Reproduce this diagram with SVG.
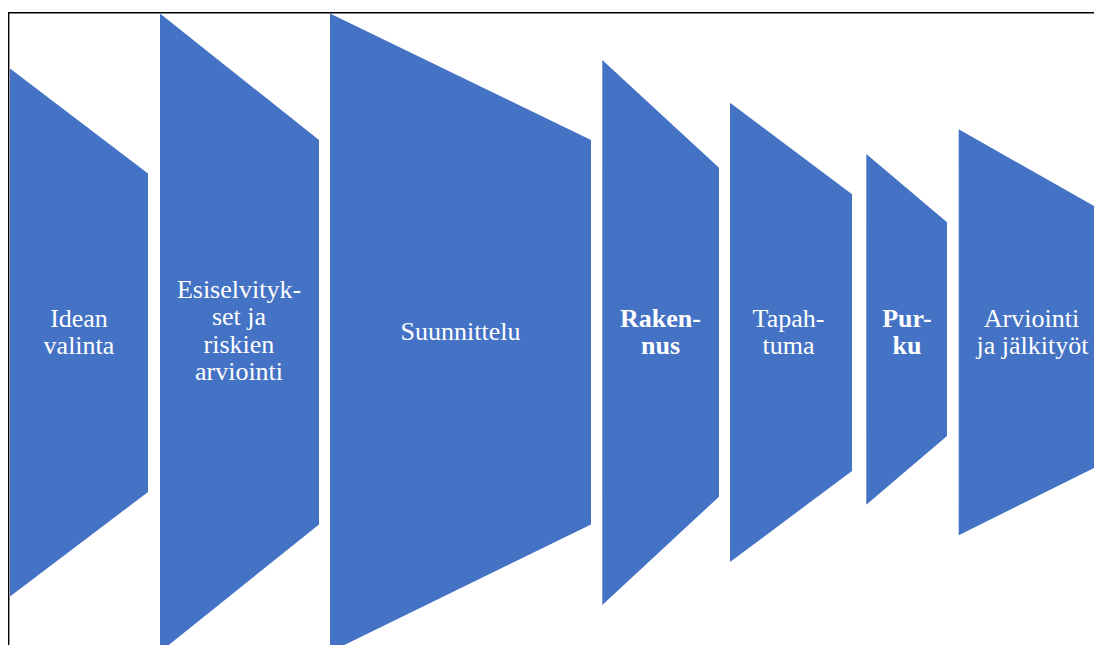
<svg xmlns="http://www.w3.org/2000/svg" width="1094" height="645" viewBox="0 0 1094 645">
  <style>
    .shape { fill: #4472C4; stroke: none; }
    .lbl { font-family: "Liberation Serif", "Times New Roman", serif; font-size: 26px; fill: #FFFFFF; text-anchor: middle; }
    .bold { font-weight: bold; }
    .frame { fill: none; stroke: #000000; stroke-width: 1.4; }
  </style>
  <rect fill="#FFFFFF" x="0" y="0" width="1094" height="645"/>
  <path class="frame" d="M8.7,660 L8.7,12.7 L1100,12.7"/>
  <g id="node-idean-valinta">
    <polygon class="shape" points="10,68.5 148,173.5 148,492 10,596.5"/>
    <text class="lbl" x="79" y="327">Idean</text>
    <text class="lbl" x="79" y="354">valinta</text>
  </g>
  <g id="node-esiselvitykset">
    <polygon class="shape" points="160,13.5 319,140 319,524.5 160,652"/>
    <text class="lbl" x="239" y="298">Esiselvityk-</text>
    <text class="lbl" x="239" y="325">set ja</text>
    <text class="lbl" x="239" y="352.5">riskien</text>
    <text class="lbl" x="239" y="380">arviointi</text>
  </g>
  <g id="node-suunnittelu">
    <polygon class="shape" points="330,13.5 591,140 591,524.5 330,652"/>
    <text class="lbl" x="460.5" y="339.5">Suunnittelu</text>
  </g>
  <g id="node-rakennus">
    <polygon class="shape" points="602.3,60 719,167.7 719,496.7 602.3,605"/>
    <text class="lbl bold" x="660.5" y="327">Raken-</text>
    <text class="lbl bold" x="660.5" y="353.5">nus</text>
  </g>
  <g id="node-tapahtuma">
    <polygon class="shape" points="730,102.7 852,194.3 852,471 730,562"/>
    <text class="lbl" x="788.5" y="327">Tapah-</text>
    <text class="lbl" x="788.5" y="353.5">tuma</text>
  </g>
  <g id="node-purku">
    <polygon class="shape" points="866.3,154 947,222.3 947,436 866.3,504.7"/>
    <text class="lbl bold" x="907" y="327">Pur-</text>
    <text class="lbl bold" x="907" y="353.5">ku</text>
  </g>
  <g id="node-arviointi">
    <polygon class="shape" points="958.7,129.3 1094,206 1094,468 958.7,535.3"/>
    <text class="lbl" x="1031.5" y="327">Arviointi</text>
    <text class="lbl" x="1032.5" y="353.5">ja jälkityöt</text>
  </g>
</svg>
